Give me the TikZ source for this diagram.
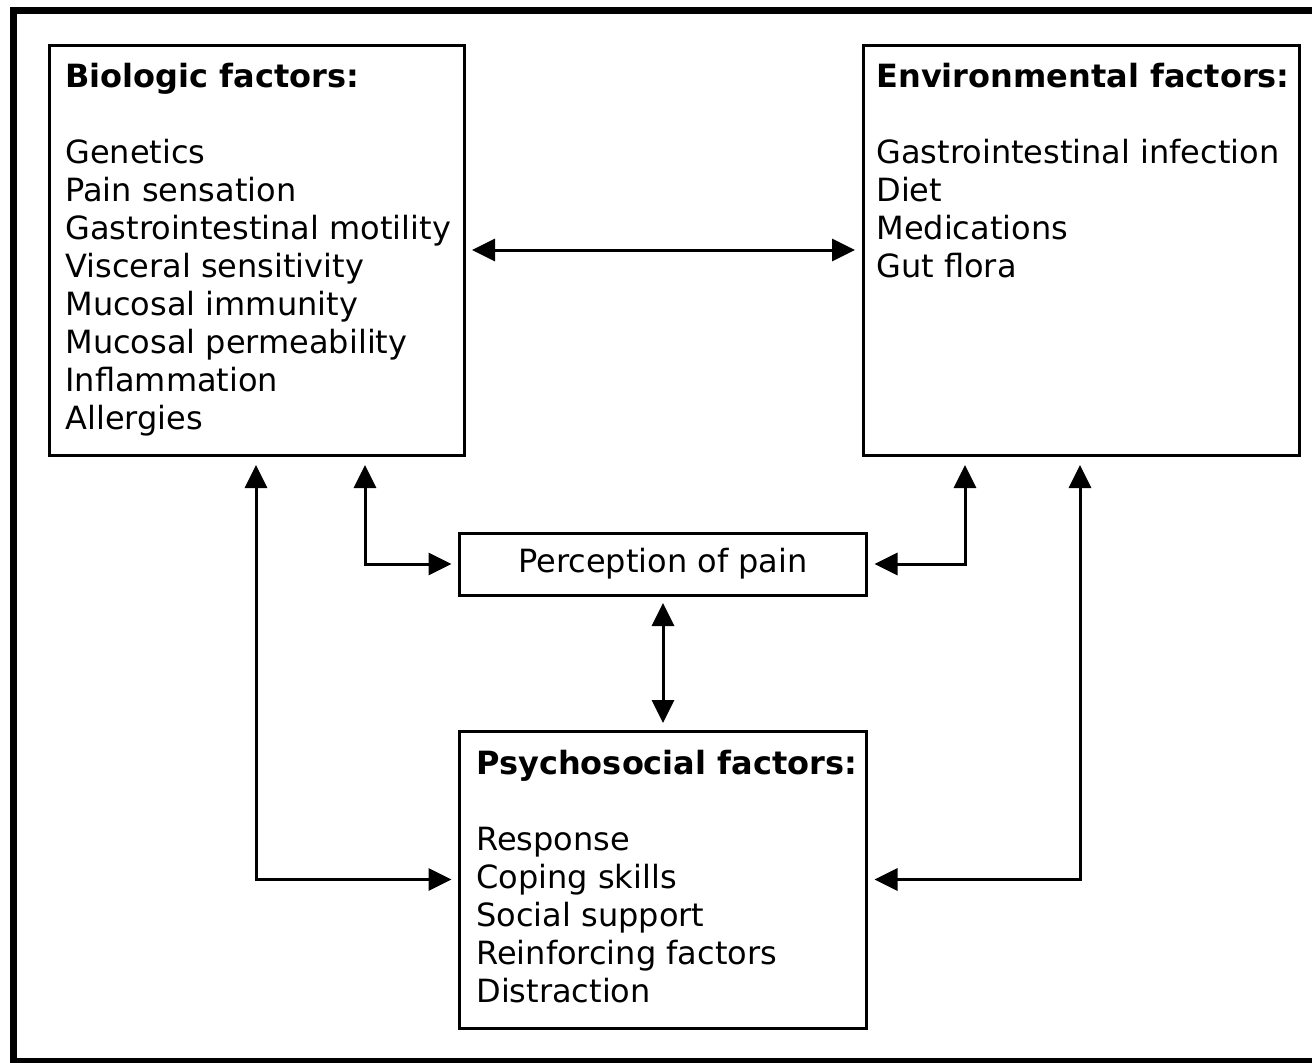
\documentclass[tikz,border=0pt]{standalone}
\usepackage{fontspec}
\setmainfont{DejaVu Sans}
\usetikzlibrary{arrows.meta,calc}
\tikzset{
	factorbox/.style={
			draw, line width=1.5pt, outer sep=0pt, inner sep=0pt, anchor=north west
		},
	factortext/.style={
			anchor=base west, align=left, inner sep=0pt,
			font=\fontsize{16pt}{19pt}\selectfont
		},
	twoway/.style={
			line width=1.5pt, {Triangle[length=11.5pt,width=11pt]}-{Triangle[length=11.5pt,width=11pt]},
			shorten <=4pt, shorten >=4pt
		}
}

\begin{document}
\begin{tikzpicture}[x=0.5pt,y=-0.5pt]
    \def\gap{19pt} % one empty line under the headings
    \clip (0,0) rectangle (1312,1062);
    \useasboundingbox (0,0) rectangle (1312,1062);

    % Outer frame
    \draw[line width=3.5pt] (13.5,10.5) rectangle (1322,1061.5);

    % Boxes
    \node[factorbox, minimum width=207.5pt, minimum height=205pt] (bio) at (49,45) {};
    \node[factorbox, minimum width=218pt, minimum height=205pt] (env) at (863,45) {};
    \node[factorbox, minimum width=203.5pt, minimum height=31pt,
      font=\fontsize{16pt}{19pt}\selectfont] (perc) at (459.5,533) {Perception of pain};
    \node[factorbox, minimum width=203.5pt, minimum height=148.5pt] (psych) at (459.5,731) {};

    % Box texts (placed at the baseline of their last line)
    \node[factortext] (biotext) at (65,429) {\textbf{Biologic factors:}\\[\gap]
      Genetics\\ Pain sensation\\ Gastrointestinal motility\\ Visceral sensitivity\\
      Mucosal immunity\\ Mucosal permeability\\ Inflammation\\ Allergies};
    \node[factortext] (envtext) at (876,277) {\textbf{Environmental factors:}\\[\gap]
      Gastrointestinal infection\\ Diet\\ Medications\\ Gut flora};
    \node[factortext] (psychtext) at (476,1002) {\textbf{Psychosocial factors:}\\[\gap]
      Response\\ Coping skills\\ Social support\\ Reinforcing factors\\ Distraction};

    % Arrows
    \draw[twoway] (bio.east) -- (env.west);
    \draw[twoway, shorten <=5pt] ($(bio.south west)+(207,0)$) |- (psych.west);
    \draw[twoway, shorten <=5pt] ($(bio.south west)+(316,0)$) |- (perc.west);
    \draw[twoway, shorten <=5pt] ($(env.south west)+(102,0)$) |- (perc.east);
    \draw[twoway, shorten <=5pt] ($(env.south west)+(217,0)$) |- (psych.east);
    \draw[twoway] (perc.south) -- (psych.north);
\end{tikzpicture}
\end{document}
